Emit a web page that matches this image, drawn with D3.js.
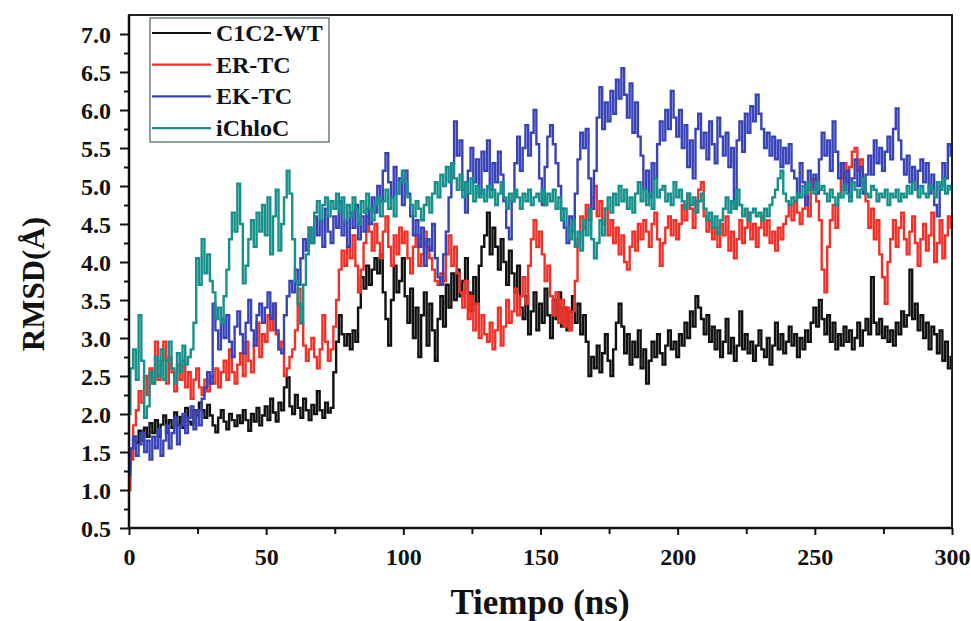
<!DOCTYPE html>
<html><head><meta charset="utf-8">
<script src="https://cdn.jsdelivr.net/npm/d3@7"></script>
<style>body{margin:0;background:#fff}text{font-family:'Liberation Serif','Times New Roman',serif;font-weight:bold;fill:#111}</style>
</head><body><svg id="c" width="971" height="621"></svg>
<script>
// ---------- DATA (time step 1 ns, t = 0..300) ----------
const timeStep = 1;
const seriesNames = ["C1C2-WT", "ER-TC", "EK-TC", "iChloC"];
const seriesColors = ["#111111", "#ef3128", "#3843b8", "#16908b"];
const xTickValues = [0, 50, 100, 150, 200, 250, 300];
const xMinorTicks = [25, 75, 125, 175, 225, 275];
const yTickValues = [0.5,1.0,1.5,2.0,2.5,3.0,3.5,4.0,4.5,5.0,5.5,6.0,6.5,7.0];
const yMinorTicks = [0.75,1.25,1.75,2.25,2.75,3.25,3.75,4.25,4.75,5.25,5.75,6.25,6.75];

const c1c2wt = [
1.30,1.55,1.70,1.62,1.78,1.65,1.82,1.70,1.88,1.75,
1.92,1.70,1.86,1.98,1.75,1.92,1.82,2.02,1.85,1.96,
1.82,2.08,1.90,1.86,2.05,1.98,2.15,2.05,1.95,2.12,
1.98,1.85,1.76,1.95,2.05,1.90,1.80,2.00,1.92,1.84,
1.98,1.88,2.05,1.92,1.78,2.00,1.90,2.08,1.85,1.98,
2.10,1.92,2.20,2.02,1.90,2.15,2.05,2.35,2.48,2.10,
2.00,2.25,2.08,1.95,2.20,2.05,1.92,2.12,2.00,2.30,
2.05,1.95,2.15,2.02,2.08,2.55,2.95,3.30,3.05,2.90,
3.05,2.85,3.10,2.95,3.40,3.80,3.65,3.95,3.70,3.90,
4.05,3.85,4.10,3.60,3.25,2.90,3.50,3.95,3.60,3.75,
4.05,3.55,3.20,3.65,3.00,3.40,2.75,3.30,3.60,2.90,
3.45,3.10,2.70,3.25,3.55,3.15,3.70,3.40,3.85,3.50,
3.90,3.55,3.75,4.05,3.60,3.35,3.80,3.45,3.95,4.20,
4.35,4.65,4.10,4.45,4.20,3.90,4.30,4.00,3.70,4.15,
3.85,3.60,3.95,3.40,3.25,3.55,3.05,3.35,3.60,3.10,
3.45,3.20,3.65,3.30,3.00,3.50,3.25,3.60,3.15,3.40,
3.10,3.35,3.55,3.20,3.45,3.05,3.30,2.95,2.50,2.75,
2.60,2.90,2.55,2.80,3.05,2.70,2.50,2.85,3.20,3.45,
3.15,2.80,3.05,2.65,2.95,2.75,3.10,2.60,2.85,2.40,
2.70,2.95,2.75,3.05,2.80,2.65,2.90,3.10,2.85,2.95,
2.75,3.05,2.90,3.20,3.00,3.35,3.15,3.55,3.40,3.25,
3.05,3.30,2.95,3.15,2.85,3.10,2.75,2.95,3.25,2.80,
3.00,2.70,2.90,3.35,2.85,3.05,2.80,2.95,2.70,2.90,
3.10,2.85,2.75,3.00,2.65,2.90,3.20,2.85,3.05,2.80,
2.95,3.15,2.90,3.05,2.75,3.00,2.85,3.10,2.95,3.20,
3.40,3.15,3.50,3.25,3.05,3.30,2.95,3.20,2.85,3.05,
2.90,3.15,2.95,3.10,2.85,3.00,3.20,2.90,3.10,3.25,
3.05,3.80,3.20,3.05,3.25,3.00,3.15,2.95,3.10,2.90,
3.20,3.05,3.35,3.15,3.30,3.90,3.25,3.45,3.10,3.30,
3.00,3.20,2.85,3.15,3.05,2.80,3.10,2.70,2.95,2.60,
2.75];

const erTC = [
1.00,1.40,1.85,2.05,2.30,2.15,2.50,2.25,2.60,2.40,
2.95,2.45,2.70,2.95,2.40,2.75,2.55,2.30,2.65,2.45,
2.70,2.35,2.55,2.20,2.45,2.60,2.35,2.25,2.45,2.30,
2.50,2.40,2.60,2.35,2.55,2.70,2.45,2.85,2.55,2.40,
2.65,2.80,2.50,2.95,2.70,2.55,2.90,3.20,2.75,3.05,
2.95,3.30,3.10,3.45,3.05,2.85,2.95,2.50,2.60,2.75,
2.85,3.10,3.65,3.20,2.90,2.70,2.85,3.00,2.75,2.60,
2.85,3.30,2.95,2.70,2.85,3.15,3.50,3.90,4.15,3.95,
4.20,4.05,4.35,3.95,3.60,3.90,4.25,4.60,4.40,4.15,
4.50,4.25,4.05,4.40,4.60,4.20,3.95,4.35,4.10,4.45,
4.25,4.40,4.05,3.85,4.20,4.35,3.95,4.10,4.40,4.20,
4.05,3.90,3.75,3.70,3.85,3.75,4.10,4.35,3.95,4.20,
3.85,3.60,3.40,3.75,3.25,3.55,3.10,3.45,3.00,3.30,
3.05,2.95,3.20,2.85,3.10,3.40,2.90,3.15,3.50,3.20,
3.35,3.65,3.30,3.55,3.80,3.45,3.95,4.30,4.55,4.20,
4.40,4.10,3.75,3.95,3.55,3.30,3.60,3.20,3.50,3.15,
3.40,3.10,3.35,3.75,4.30,4.60,4.45,4.75,4.55,4.85,
5.00,4.60,4.80,4.50,4.70,4.35,4.55,4.25,4.45,4.10,
4.35,4.00,3.90,4.20,4.40,4.15,4.50,4.30,4.55,4.40,
4.20,4.50,4.65,4.30,3.95,4.25,4.45,4.60,4.35,4.55,
4.30,4.50,4.75,4.55,4.90,4.70,4.45,4.80,4.95,5.05,
4.60,4.40,4.55,4.30,4.45,4.20,4.50,4.35,4.60,4.15,
4.40,4.05,4.30,4.55,4.25,4.45,4.65,4.30,4.50,4.20,
4.45,4.60,4.35,4.55,4.25,4.40,4.15,4.45,4.30,4.50,
4.60,4.75,4.55,4.80,4.65,4.50,4.70,4.85,4.60,4.95,
5.10,4.80,4.55,3.90,3.60,4.20,4.55,4.75,4.45,4.85,
5.10,5.30,5.05,5.25,5.45,5.50,5.20,5.35,5.05,4.80,
4.45,4.70,4.30,4.55,4.10,3.80,3.45,4.00,4.30,4.55,
4.20,4.45,4.65,4.30,4.10,4.40,4.60,4.25,3.95,4.30,
4.50,4.15,4.35,4.65,4.00,4.25,4.55,4.05,4.35,4.60,
4.45];

const ekTC = [
1.20,1.55,1.70,1.45,1.60,1.75,1.50,1.65,1.40,1.70,
1.55,1.80,1.45,1.65,1.85,1.55,1.75,1.95,1.60,1.85,
2.00,1.75,1.95,2.10,1.80,2.05,1.85,2.20,2.35,2.55,
2.40,3.45,3.10,2.85,3.25,3.00,3.30,2.95,2.75,3.15,
3.35,3.05,2.80,3.20,3.50,3.10,2.90,3.30,3.45,3.20,
3.40,3.60,3.25,3.45,3.10,2.85,2.80,3.30,3.55,3.75,
3.60,3.90,3.70,4.05,4.30,4.15,4.45,4.25,4.60,4.35,
4.55,4.20,4.70,4.40,4.25,4.60,4.45,4.80,4.35,4.55,
4.20,4.65,4.45,4.75,4.30,4.60,4.40,4.70,4.50,4.85,
4.65,5.00,4.80,5.20,5.43,5.05,4.85,5.25,4.90,5.10,
4.75,5.20,4.90,4.60,4.35,4.55,4.20,4.45,3.95,4.30,
4.15,4.50,4.05,3.80,3.70,4.10,4.40,4.85,5.30,5.85,
5.40,5.60,4.95,4.65,5.20,5.50,5.05,5.35,4.90,5.45,
5.20,5.60,4.95,5.30,5.05,5.45,5.15,4.80,4.45,4.30,
4.80,5.30,5.65,5.20,5.50,5.80,5.40,5.70,6.00,5.55,
5.10,4.75,5.25,5.65,5.80,5.55,5.30,5.00,4.70,4.45,
4.25,4.60,4.40,4.90,5.35,5.70,5.50,5.75,5.10,4.70,
5.20,5.90,6.30,5.75,6.10,5.85,6.25,5.95,6.40,6.15,
6.55,6.20,5.90,6.35,5.70,6.10,5.65,5.40,4.95,5.20,
4.85,5.30,5.10,5.55,5.85,5.60,6.00,5.75,6.25,5.90,
5.65,6.00,5.50,5.80,5.25,5.60,5.10,5.75,5.95,5.50,
5.70,5.35,5.85,5.55,5.30,5.90,5.65,5.40,5.70,5.25,
5.50,4.70,5.60,5.85,5.45,5.95,5.70,6.05,5.85,6.20,
5.95,5.75,5.50,5.70,5.40,5.65,5.35,5.60,5.25,5.50,
5.30,5.55,5.20,5.10,4.85,5.30,5.05,4.75,5.20,4.95,
5.15,4.90,5.35,5.70,5.40,5.60,5.20,5.85,5.45,5.10,
5.30,4.95,5.20,4.85,5.10,5.35,5.00,5.25,4.90,5.15,
5.40,5.15,5.60,5.30,5.50,5.20,5.45,5.65,5.35,5.75,
6.02,5.60,5.35,5.15,5.40,5.05,5.25,4.95,5.20,5.35,
5.05,5.30,4.90,5.15,4.75,4.60,5.00,5.30,5.10,5.55,
5.40];

const ichloc = [
2.00,2.60,2.85,2.45,3.30,2.70,1.95,2.10,2.55,2.40,
2.75,2.50,2.85,2.45,2.70,2.95,2.60,2.40,2.80,2.55,
2.90,2.65,2.75,2.85,3.20,4.05,3.70,4.30,3.85,4.10,
3.75,3.60,3.25,3.40,3.20,3.55,3.90,4.30,4.65,4.40,
5.03,4.50,3.72,3.95,4.30,4.55,4.20,4.65,4.40,4.75,
4.35,4.85,4.10,4.60,4.95,4.15,4.50,4.85,5.20,4.90,
4.30,3.75,3.45,3.19,3.70,4.10,4.45,4.25,4.65,4.80,
4.55,4.75,4.85,4.60,4.80,4.70,4.90,4.65,4.85,4.55,
4.75,4.60,4.85,4.70,4.50,4.80,4.65,4.90,4.70,4.55,
4.75,4.85,4.60,4.80,4.95,4.70,4.85,4.60,4.90,5.05,
5.20,5.05,4.85,4.75,4.60,4.80,4.70,4.55,4.75,4.85,
4.65,4.90,5.05,4.85,5.15,5.00,5.25,5.05,5.30,5.10,
4.95,5.15,4.85,5.05,4.90,5.10,4.80,5.00,4.85,4.95,
4.80,5.00,4.85,4.95,4.75,4.90,5.05,4.85,4.70,4.90,
4.80,4.95,4.85,4.70,4.90,4.80,4.95,4.75,4.85,4.90,
4.80,4.95,4.75,4.90,4.80,4.95,4.70,4.85,4.55,4.70,
4.45,4.30,4.55,4.20,4.40,4.15,4.55,4.35,4.70,4.30,
4.05,4.25,4.55,4.35,4.70,4.85,4.65,4.90,4.75,5.00,
4.80,4.95,4.70,4.85,4.65,4.90,5.05,4.80,4.95,4.75,
4.90,4.70,5.10,4.85,4.95,5.00,4.80,4.90,4.75,5.05,
4.85,4.95,4.80,4.70,4.90,4.75,4.85,4.65,4.80,4.90,
4.70,4.55,4.65,4.45,4.60,4.37,4.55,4.70,4.85,4.65,
4.80,4.70,4.95,4.75,4.60,4.70,4.55,4.65,4.70,4.60,
4.65,4.55,4.70,4.60,4.75,4.85,4.95,5.10,5.20,4.90,
4.80,4.75,4.85,4.80,4.90,4.85,5.00,4.90,5.05,4.95,
4.90,5.05,4.95,5.00,4.90,4.80,4.95,4.85,4.75,4.90,
4.85,5.00,4.90,4.80,5.05,4.95,4.85,4.95,5.10,4.90,
4.85,5.00,4.95,4.80,4.90,4.85,4.95,4.75,4.90,4.85,
4.95,4.80,4.90,4.85,5.00,4.90,5.05,4.95,4.85,5.00,
4.90,4.85,5.00,4.95,4.85,5.05,4.95,5.10,4.90,5.00,
4.95];

const seriesValues = [c1c2wt, erTC, ekTC, ichloc];

// ---------- CHART ----------
const svg = d3.select("#c");
const L = 129, R = 952, T = 15, B = 528;
const x = d3.scaleLinear().domain([0, 300]).range([L, R]);
const y = d3.scaleLinear().domain([0.5, 7.25]).range([B, T]);

svg.append("defs").append("clipPath").attr("id", "clip")
  .append("rect").attr("x", L).attr("y", T).attr("width", R - L).attr("height", B - T);

const line = d3.line().x((d, i) => x(i * timeStep)).y(d => y(d)).curve(d3.curveStep);
const g = svg.append("g").attr("clip-path", "url(#clip)");
seriesValues.forEach((vals, k) => {
  g.append("path").datum(vals).attr("d", line)
    .attr("fill", "none").attr("stroke", seriesColors[k])
    .attr("stroke-width", 2.4).attr("stroke-linejoin", "miter");
});

// frame
svg.append("rect").attr("x", L).attr("y", T).attr("width", R - L).attr("height", B - T)
  .attr("fill", "none").attr("stroke", "#222").attr("stroke-width", 2);

// axes
function styleAxis(sel) {
  sel.select(".domain").remove();
  sel.selectAll("line").attr("stroke", "#111").attr("stroke-width", 2);
}
const yAx = svg.append("g").attr("transform", `translate(${L},0)`)
  .call(d3.axisLeft(y).tickValues(yTickValues).tickSize(9).tickPadding(9).tickFormat(d3.format(".1f")))
  .call(styleAxis);
yAx.selectAll("text").style("font-size", "24px").attr("dy", "0.34em");
svg.append("g").attr("transform", `translate(${L},0)`)
  .call(d3.axisLeft(y).tickValues(yMinorTicks).tickSize(5).tickFormat(""))
  .call(styleAxis);

const xAx = svg.append("g").attr("transform", `translate(0,${B})`)
  .call(d3.axisBottom(x).tickValues(xTickValues).tickSize(7).tickPadding(13).tickFormat(d3.format("d")))
  .call(styleAxis);
xAx.selectAll("text").style("font-size", "24px");
svg.append("g").attr("transform", `translate(0,${B})`)
  .call(d3.axisBottom(x).tickValues(xMinorTicks).tickSize(6).tickFormat(""))
  .call(styleAxis);
svg.append("line").attr("x1", L).attr("x2", R).attr("y1", B).attr("y2", B).attr("stroke", "#111").attr("stroke-width", 2.5);
svg.append("line").attr("x1", L).attr("x2", L).attr("y1", T).attr("y2", B).attr("stroke", "#111").attr("stroke-width", 2.5);

// axis titles
svg.append("text").attr("x", 540).attr("y", 614).attr("text-anchor", "middle")
  .style("font-size", "35px").text("Tiempo (ns)");
svg.append("text").attr("transform", "translate(44,284) rotate(-90)").attr("text-anchor", "middle")
  .style("font-size", "31px").text("RMSD(Å)");

// legend
const lg = svg.append("g");
lg.append("rect").attr("x", 150).attr("y", 18).attr("width", 179).attr("height", 124)
  .attr("fill", "#fff").attr("stroke", "#4d6b70").attr("stroke-width", 1.3);
seriesNames.forEach((name, k) => {
  const cy = 33 + k * 31.7;
  lg.append("line").attr("x1", 152).attr("x2", 211).attr("y1", cy).attr("y2", cy)
    .attr("stroke", seriesColors[k]).attr("stroke-width", 2.2);
  lg.append("text").attr("x", 216).attr("y", cy).attr("dy", "0.33em")
    .style("font-size", "24px").text(name);
});
</script></body></html>
